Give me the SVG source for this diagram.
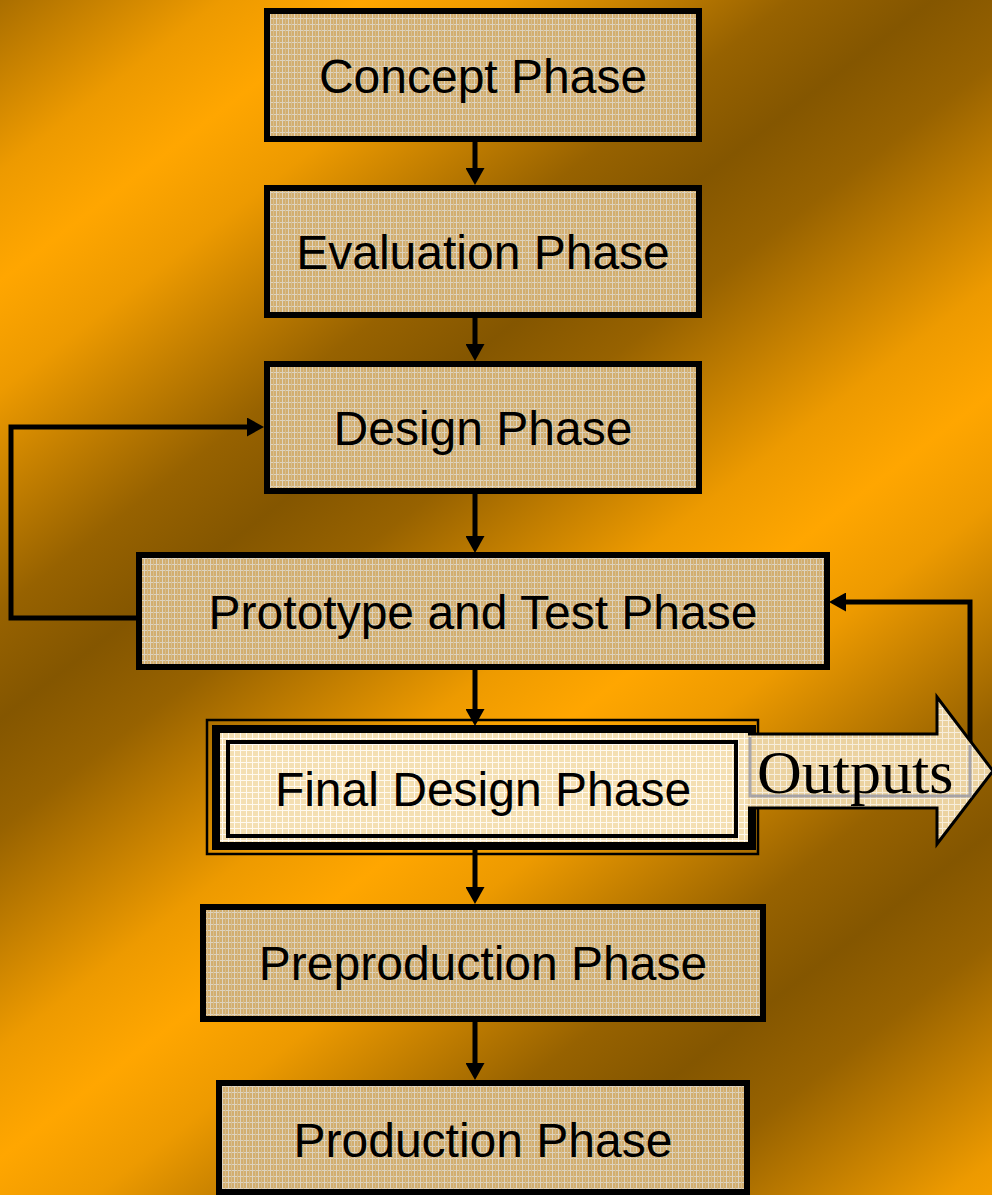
<svg xmlns="http://www.w3.org/2000/svg" width="992" height="1195" viewBox="0 0 992 1195">
<defs>
<linearGradient id="bg" gradientUnits="userSpaceOnUse" x1="136" y1="176" x2="348" y2="451" spreadMethod="reflect">
<stop offset="0" stop-color="#FFA600"/>
<stop offset="0.25" stop-color="#ED9A00"/>
<stop offset="0.5" stop-color="#C27E00"/>
<stop offset="0.75" stop-color="#976200"/>
<stop offset="1" stop-color="#845600"/>
</linearGradient>
<pattern id="tan" width="6" height="6" patternUnits="userSpaceOnUse">
<rect width="6" height="6" fill="#D2AE70"/>
<rect width="6" height="1" fill="#DDD3C0"/>
<rect width="1" height="6" fill="#DDD3C0"/>
<rect x="3" width="1" height="6" fill="#D7BE90"/>
</pattern>
<pattern id="cream" width="6" height="6" patternUnits="userSpaceOnUse">
<rect width="6" height="6" fill="#F4DFB2"/>
<rect width="6" height="1" fill="#FFFAF0"/>
<rect width="1" height="6" fill="#FFFAF0"/>
</pattern>
<pattern id="arrowfill" width="6" height="6" patternUnits="userSpaceOnUse">
<rect width="6" height="6" fill="#EBD2A0"/>
<rect width="6" height="1" fill="#F7EEDC"/>
<rect width="1" height="6" fill="#F7EEDC"/>
</pattern>
<marker id="ah" markerWidth="17" markerHeight="19" refX="6" refY="9.5" orient="auto" markerUnits="userSpaceOnUse">
<path d="M0,0 L17,9.5 L0,19 z" fill="#000"/>
</marker>
<style>
.box{fill:url(#tan);stroke:#000;stroke-width:6}
.lbl{font-family:"Liberation Sans",Arial,sans-serif;font-size:48px;fill:#000;text-anchor:middle}
.conn{fill:none;stroke:#000;stroke-width:5}
</style>
</defs>
<rect width="992" height="1195" fill="url(#bg)"/>

<g id="connectors">
<path class="conn" d="M475,142 V174" marker-end="url(#ah)"/>
<path class="conn" d="M475,317 V350" marker-end="url(#ah)"/>
<path class="conn" d="M475,493 V542" marker-end="url(#ah)"/>
<path class="conn" d="M475,669 V715" marker-end="url(#ah)"/>
<path class="conn" d="M475,850 V893" marker-end="url(#ah)"/>
<path class="conn" d="M475,1022 V1069" marker-end="url(#ah)"/>
<path class="conn" d="M136,618 H11 V427 H253" marker-end="url(#ah)"/>
<path class="conn" d="M970,745 V602 H840" marker-end="url(#ah)"/>
</g>

<g id="concept">
<rect class="box" x="267" y="11" width="432" height="128"/>
<text class="lbl" x="483" y="93">Concept Phase</text>
</g>
<g id="evaluation">
<rect class="box" x="267" y="188" width="432" height="127"/>
<text class="lbl" x="483" y="269">Evaluation Phase</text>
</g>
<g id="design">
<rect class="box" x="267" y="364" width="432" height="127"/>
<text class="lbl" x="483" y="445">Design Phase</text>
</g>
<g id="prototype">
<rect class="box" x="139" y="555" width="688" height="112"/>
<text class="lbl" x="483" y="629">Prototype and Test Phase</text>
</g>
<g id="final-design">
<rect x="207" y="720" width="551" height="134" fill="none" stroke="#000" stroke-width="2.5"/>
<rect x="216" y="729" width="536" height="117" fill="url(#cream)" stroke="#000" stroke-width="8"/>
<rect x="228" y="742" width="508" height="94" fill="url(#cream)" stroke="#000" stroke-width="4"/>
<text class="lbl" x="483" y="806">Final Design Phase</text>
</g>
<g id="outputs">
<path d="M748,734 H937 V697 L993,771 L937,844 V808 H748 Z" fill="url(#arrowfill)"/>
<path d="M748,734 H937 V697 L993,771 L937,844 V808 H748" fill="none" stroke="#000" stroke-width="3"/>
<path d="M750,737 V796 H970 V745" fill="none" stroke="#9A9AA6" stroke-width="3" opacity="0.85"/>
<text x="757" y="793" font-family="'Liberation Serif','Times New Roman',serif" font-size="62" fill="#000">Outputs</text>
</g>
<g id="preproduction">
<rect class="box" x="203" y="907" width="560" height="112"/>
<text class="lbl" x="483" y="980">Preproduction Phase</text>
</g>
<g id="production">
<rect class="box" x="219" y="1083" width="528" height="109"/>
<text class="lbl" x="483" y="1157">Production Phase</text>
</g>
</svg>
